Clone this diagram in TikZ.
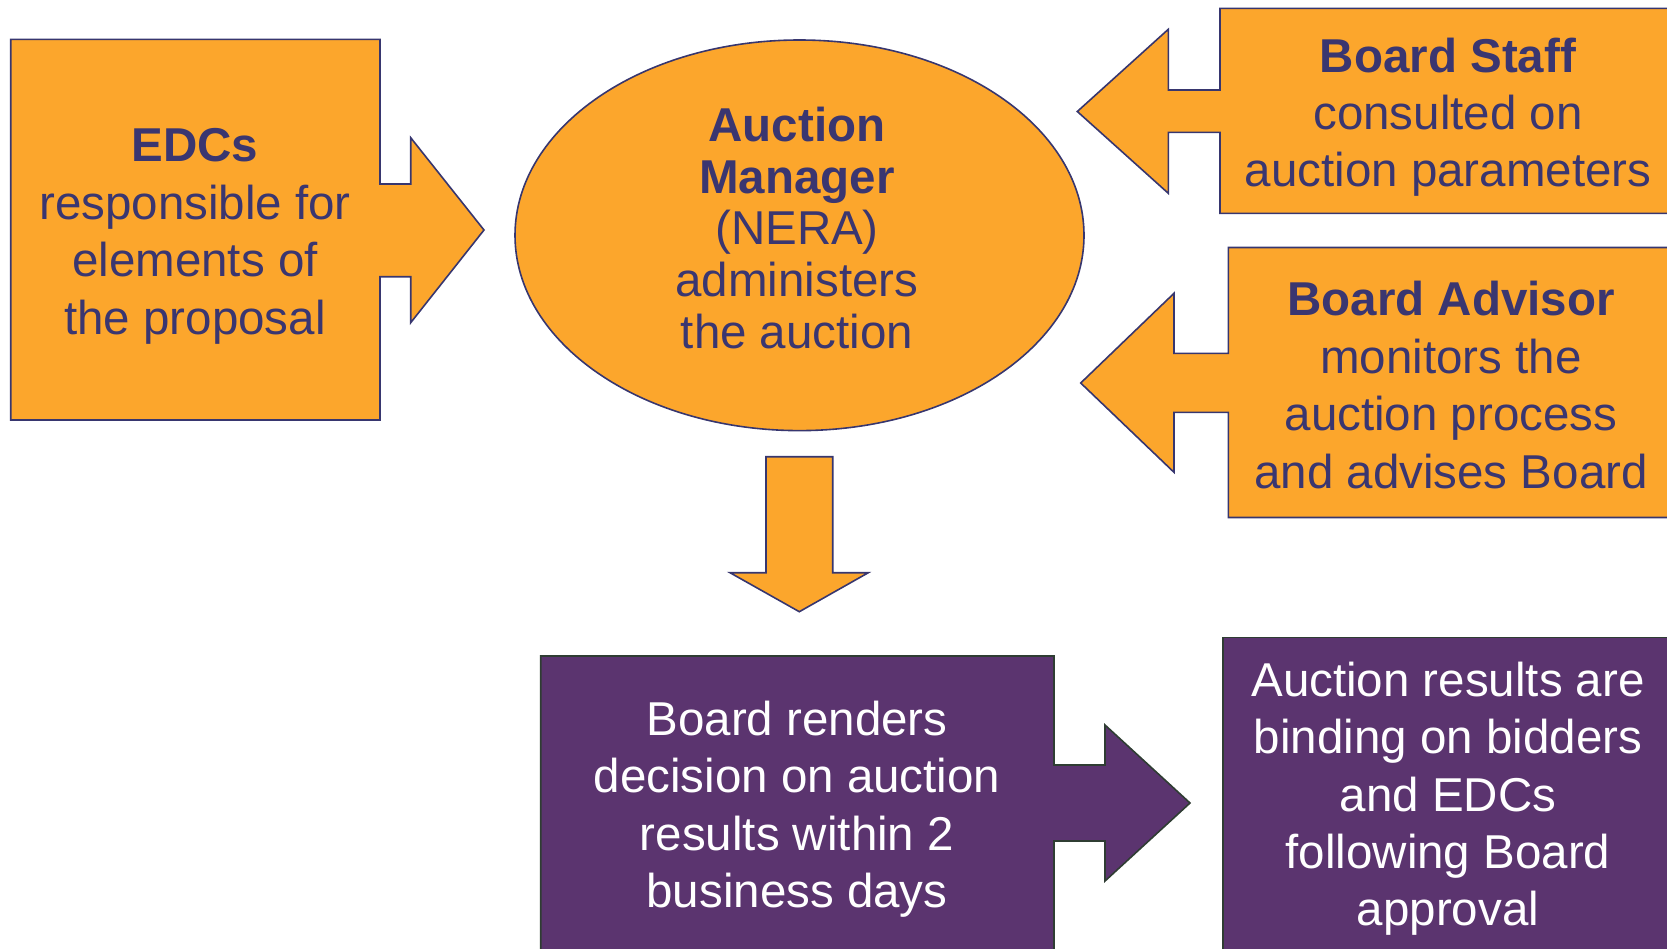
\documentclass[tikz,border=0pt]{standalone}
\usepackage{fontspec}
\setmainfont{Liberation Sans}
\usetikzlibrary{shapes.geometric}

\definecolor{orangefill}{HTML}{FCA62C}
\definecolor{navytext}{HTML}{3A3670}
\definecolor{navyline}{HTML}{37366F}
\definecolor{purplefill}{HTML}{5B346F}
\definecolor{purpleline}{HTML}{2F3D33}

\tikzset{
  orangeshape/.style={fill=orangefill, draw=navyline, line width=1.6pt, line join=miter},
  purpleshape/.style={fill=purplefill, draw=purpleline, line width=1.6pt, line join=miter},
  bodytext/.style={inner sep=0pt, anchor=north, align=center,
    font=\fontsize{47.5}{57.5}\selectfont, execute at begin node=\strut},
  darktext/.style={bodytext, text=navytext},
  lighttext/.style={bodytext, text=white},
}

\begin{document}
\begin{tikzpicture}[x=1pt, y=-1pt]
  \useasboundingbox (0,0) rectangle (1667,948);
  \clip (0,0) rectangle (1667,948);

  % EDC block with its arrow to the right
  \draw[orangeshape] (10.7,39.3) -- (380,39.3) -- (380,184) -- (410.7,184)
    -- (410.7,137.7) -- (484,230) -- (410.7,322.7) -- (410.7,276.7)
    -- (380,276.7) -- (380,420) -- (10.7,420) -- cycle;
  \node[darktext] (edc) at (195,128.3)
    {\textbf{EDCs}\\responsible for\\elements of\\the proposal};

  % Auction manager ellipse
  \node[orangeshape, ellipse, minimum width=569pt, minimum height=390.6pt,
        inner sep=0pt] (mgr) at (799.5,235.3) {};
  \node[darktext, font=\fontsize{47.5}{51.9}\selectfont] (mgrtext) at (797,106.5)
    {\textbf{Auction}\\\textbf{Manager}\\(NERA)\\administers\\the auction};

  % Board Staff block with its arrow to the left
  \draw[orangeshape] (1220,8.3) -- (1680,8.3) -- (1680,213.3) -- (1220,213.3)
    -- (1220,132.3) -- (1168.3,132.3) -- (1168.3,193.3) -- (1077.3,111.5)
    -- (1168.3,29.3) -- (1168.3,90) -- (1220,90) -- cycle;
  \node[darktext, font=\fontsize{47.5}{57}\selectfont] (staff) at (1448,37.7)
    {\textbf{Board Staff}\\consulted on\\auction parameters};

  % Board Advisor block with its arrow to the left
  \draw[orangeshape] (1228.3,247.5) -- (1680,247.5) -- (1680,517.5) -- (1228.3,517.5)
    -- (1228.3,412.3) -- (1174,412.3) -- (1174,472.3) -- (1080.7,383)
    -- (1174,293.3) -- (1174,353.3) -- (1228.3,353.3) -- cycle;
  \node[darktext] (advisor) at (1451,281.1)
    {\textbf{Board Advisor}\\monitors the\\auction process\\and advises Board};

  % Downward arrow from the manager to the decision
  \draw[orangeshape] (766,456.7) -- (832.7,456.7) -- (832.7,572.7) -- (868.3,572.7)
    -- (799.3,611.7) -- (730,572.7) -- (766,572.7) -- cycle;

  % Board decision block with its arrow to the right
  \draw[purpleshape] (540.7,656) -- (1054,656) -- (1054,765) -- (1105,765)
    -- (1105,725) -- (1190,803) -- (1105,881) -- (1105,841) -- (1054,841)
    -- (1054,960) -- (540.7,960) -- cycle;
  \node[lighttext] (decision) at (797,700.4)
    {Board renders\\decision on auction\\results within 2\\business days};

  % Binding results block
  \draw[purpleshape] (1222.7,637.3) rectangle (1680,960);
  \node[lighttext, font=\fontsize{47.5}{57.3}\selectfont] (binding) at (1448,661.8)
    {Auction results are\\binding on bidders\\and EDCs\\following Board\\approval};
\end{tikzpicture}
\end{document}
